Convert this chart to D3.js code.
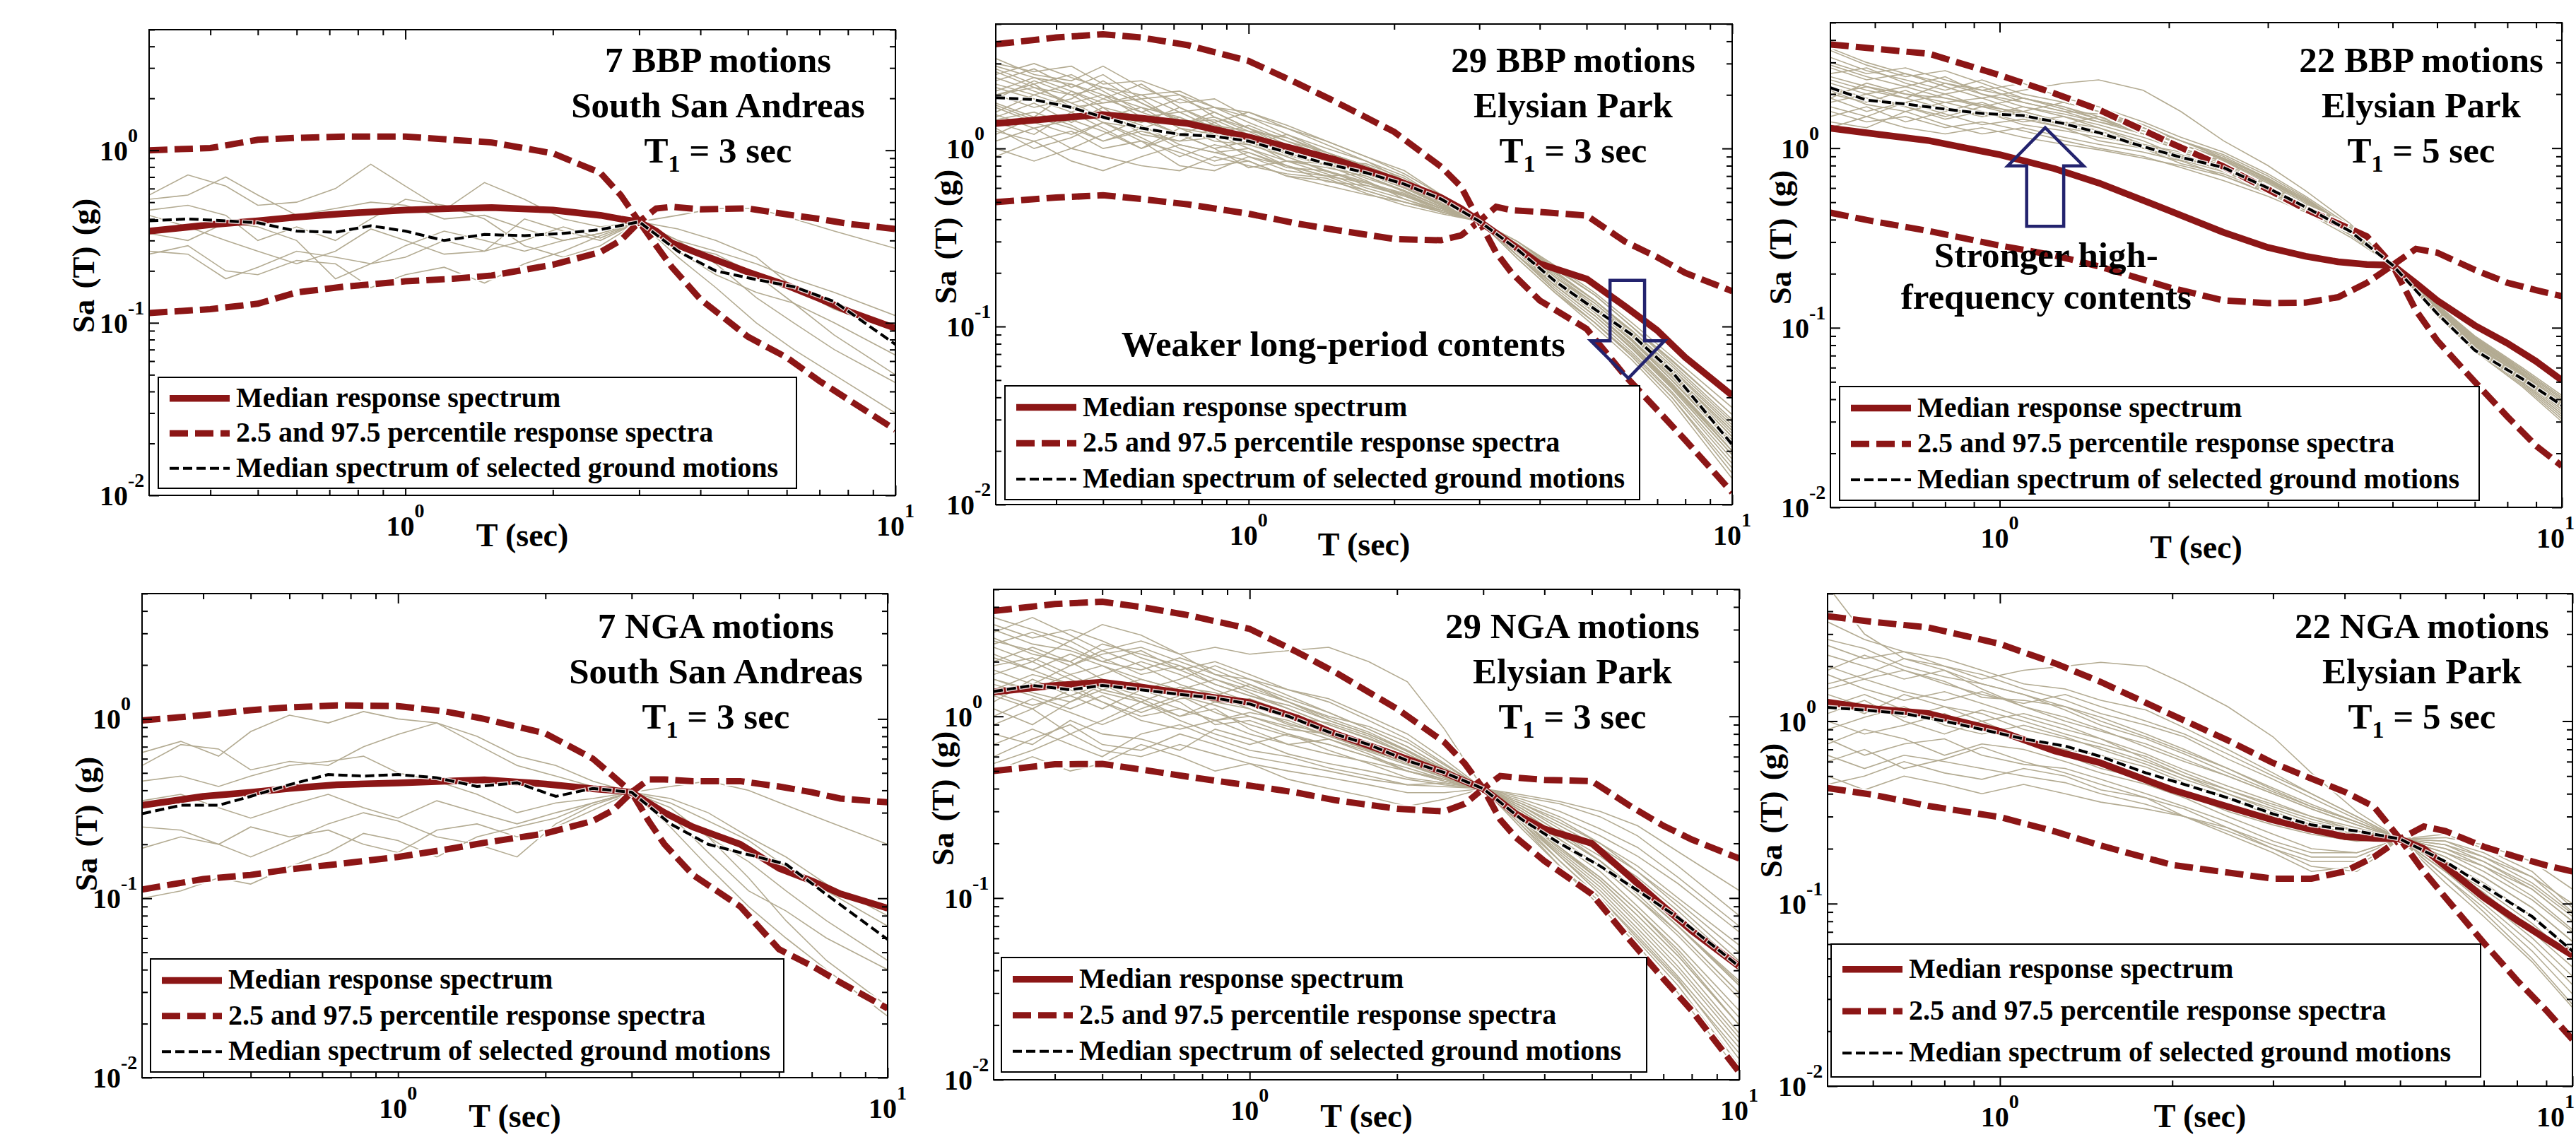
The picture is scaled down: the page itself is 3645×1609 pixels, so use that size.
<!DOCTYPE html>
<html><head><meta charset="utf-8">
<script src="https://cdn.jsdelivr.net/npm/d3@7"></script>
<style>
body{margin:0;background:#fff}
svg{display:block}
text{font-family:"Liberation Serif","Times New Roman",serif;font-weight:bold;fill:#000}
</style>
</head><body>
<svg id="c" width="3645" height="1609"></svg>
<script>
// ---------------- DATA ----------------
const T_BAND_3 = [0.3,0.4,0.5,0.6,0.75,1.0,1.25,1.5,2.0,2.5,2.75,3.0,3.25,3.5,4.0,5.0,6.0,7.0,8.0,10];
const T_BAND_5 = [0.5,0.6,0.75,1.0,1.25,1.5,2.0,2.5,3.0,3.5,4.0,4.5,5.0,5.5,6.0,7.0,8.0,9.0,10];
const T_GRID_3 = [0.3,0.36,0.43,0.5,0.6,0.72,0.85,1.0,1.2,1.45,1.75,2.1,2.5,3.0,3.6,4.3,5.2,6.2,7.5,10];
const T_GRID_5 = [0.5,0.58,0.68,0.8,0.93,1.1,1.3,1.5,1.8,2.1,2.5,3.0,3.5,4.2,5.0,6.0,7.0,8.5,10];

const X_MINOR_TICKS = [0.3,0.4,0.5,0.6,0.7,0.8,0.9,2,3,4,5,6,7,8,9];
const X_MAJOR_TICKS = [1,10];
const X_TICK_EXP = ["0","1"];
const Y_MINOR_TICKS = [0.02,0.03,0.04,0.05,0.06,0.07,0.08,0.09,0.2,0.3,0.4,0.5,0.6,0.7,0.8,0.9,2,3,4,5];
const Y_MAJOR_TICKS = [0.01,0.1,1];
const Y_TICK_EXP = ["-2","-1","0"];

const TITLE_LINE1 = ["7 BBP motions","29 BBP motions","22 BBP motions","7 NGA motions","29 NGA motions","22 NGA motions"];
const TITLE_LINE2 = ["South San Andreas","Elysian Park","Elysian Park","South San Andreas","Elysian Park","Elysian Park"];
const T1_VALUES = [3,3,5,3,3,5];
const LEGEND_LABELS = ["Median response spectrum","2.5 and 97.5 percentile response spectra","Median spectrum of selected ground motions"];

// Panel 1: 7 BBP, South San Andreas
const bbp7_median = [0.34,0.37,0.39,0.41,0.43,0.45,0.46,0.465,0.45,0.42,0.40,0.385,0.34,0.29,0.25,0.197,0.165,0.138,0.117,0.093];
const bbp7_hi = [1.0,1.03,1.15,1.18,1.2,1.2,1.15,1.11,0.96,0.74,0.55,0.385,0.46,0.47,0.455,0.46,0.425,0.40,0.375,0.35];
const bbp7_lo = [0.114,0.12,0.129,0.15,0.162,0.174,0.18,0.188,0.217,0.257,0.30,0.385,0.28,0.21,0.137,0.083,0.063,0.046,0.036,0.024];
const bbp7_sel = [0.39,0.40,0.39,0.38,0.34,0.335,0.365,0.34,0.30,0.325,0.32,0.33,0.347,0.385,0.26,0.20,0.178,0.162,0.133,0.075];
const bbp7_motions = [
 [0.55,0.72,0.62,0.48,0.50,0.60,0.83,0.62,0.45,0.65,0.52,0.40,0.36,0.385,0.30,0.26,0.22,0.18,0.15,0.11],
 [0.52,0.55,0.70,0.55,0.42,0.46,0.50,0.48,0.40,0.42,0.35,0.30,0.33,0.385,0.42,0.46,0.46,0.40,0.34,0.27],
 [0.45,0.48,0.42,0.30,0.36,0.30,0.40,0.52,0.48,0.40,0.28,0.24,0.28,0.385,0.28,0.25,0.19,0.13,0.085,0.05],
 [0.26,0.25,0.18,0.21,0.26,0.24,0.22,0.28,0.34,0.30,0.26,0.30,0.33,0.385,0.30,0.22,0.14,0.10,0.07,0.045],
 [0.25,0.28,0.20,0.19,0.23,0.22,0.16,0.19,0.21,0.17,0.22,0.26,0.32,0.385,0.24,0.16,0.10,0.07,0.05,0.03],
 [0.42,0.36,0.30,0.26,0.22,0.26,0.35,0.30,0.25,0.26,0.40,0.34,0.30,0.385,0.35,0.30,0.24,0.16,0.12,0.09],
 [0.33,0.30,0.38,0.36,0.30,0.18,0.22,0.24,0.30,0.26,0.30,0.36,0.31,0.385,0.26,0.19,0.15,0.13,0.10,0.065]
];

// Panel 2: 29 BBP, Elysian Park, T1 = 3
const bbp29_median = [1.38,1.48,1.55,1.48,1.38,1.16,0.99,0.87,0.67,0.53,0.46,0.39,0.335,0.29,0.225,0.185,0.13,0.095,0.067,0.041];
const bbp29_hi = [3.85,4.2,4.38,4.2,3.8,3.1,2.35,1.85,1.24,0.79,0.61,0.39,0.47,0.45,0.44,0.42,0.30,0.245,0.20,0.158];
const bbp29_lo = [0.50,0.53,0.546,0.52,0.485,0.43,0.38,0.35,0.31,0.305,0.325,0.39,0.26,0.20,0.14,0.097,0.053,0.034,0.023,0.0117];
const bbp29_sel = [1.93,1.88,1.7,1.5,1.3,1.2,1.17,1.1,0.95,0.82,0.73,0.63,0.52,0.39,0.27,0.18,0.125,0.09,0.056,0.0217];
const bbp29_motions = [
 [2.4,2.8,2.2,2.6,1.9,2.0,1.5,1.3,1.1,0.95,0.80,0.62,0.50,0.39,0.28,0.19,0.13,0.085,0.05,0.022],
 [1.8,1.5,2.1,1.7,1.5,1.2,1.4,1.1,0.85,0.78,0.70,0.58,0.47,0.39,0.26,0.17,0.115,0.075,0.045,0.019],
 [3.2,2.6,2.4,2.9,2.2,1.8,1.9,1.5,1.2,1.0,0.85,0.70,0.52,0.39,0.30,0.21,0.15,0.10,0.065,0.032],
 [1.2,1.5,1.3,1.1,1.3,1.0,0.85,0.95,0.80,0.65,0.62,0.55,0.46,0.39,0.25,0.16,0.105,0.07,0.042,0.017],
 [2.0,2.2,1.8,1.5,1.7,1.5,1.25,1.05,1.2,0.95,0.78,0.62,0.48,0.39,0.27,0.19,0.13,0.09,0.055,0.025],
 [2.8,2.3,2.6,2.1,1.6,1.9,1.6,1.3,1.0,0.90,0.72,0.60,0.50,0.39,0.29,0.20,0.14,0.095,0.058,0.028],
 [1.5,1.8,1.4,1.7,1.2,1.1,1.3,1.2,0.92,0.80,0.66,0.52,0.45,0.39,0.27,0.18,0.12,0.08,0.048,0.02],
 [2.2,1.9,1.6,1.9,2.3,1.7,1.4,1.6,1.3,1.1,0.90,0.75,0.55,0.39,0.28,0.20,0.14,0.092,0.055,0.026],
 [0.9,1.1,0.85,0.75,0.9,1.05,0.95,0.85,0.70,0.62,0.55,0.50,0.44,0.39,0.26,0.175,0.12,0.078,0.046,0.02],
 [1.7,1.4,1.2,1.4,1.1,0.8,0.75,0.9,0.75,0.70,0.58,0.50,0.45,0.39,0.25,0.165,0.11,0.072,0.043,0.018],
 [2.6,3.0,2.5,2.2,2.0,1.6,1.7,1.4,1.15,0.92,0.75,0.64,0.50,0.39,0.29,0.21,0.15,0.10,0.062,0.03],
 [1.4,1.2,1.6,1.3,1.0,1.2,1.0,0.78,0.85,0.72,0.60,0.52,0.44,0.39,0.24,0.155,0.105,0.068,0.04,0.016],
 [2.0,1.7,1.9,2.4,1.8,1.4,1.5,1.25,1.0,0.85,0.82,0.68,0.52,0.39,0.28,0.19,0.135,0.09,0.054,0.024],
 [1.1,1.3,1.0,1.2,1.45,1.2,1.0,1.1,0.9,0.75,0.65,0.55,0.46,0.39,0.27,0.185,0.125,0.083,0.05,0.022],
 [2.9,2.5,2.1,1.8,2.0,2.1,1.7,1.5,1.3,1.05,0.85,0.66,0.52,0.39,0.30,0.22,0.155,0.105,0.068,0.035],
 [1.6,2.0,1.7,1.4,1.3,1.5,1.2,1.0,0.80,0.70,0.72,0.60,0.48,0.39,0.26,0.175,0.12,0.08,0.048,0.021],
 [1.3,1.0,1.15,1.4,1.15,0.9,1.05,0.95,0.78,0.75,0.62,0.54,0.45,0.39,0.25,0.16,0.105,0.068,0.04,0.015],
 [2.3,2.0,2.3,1.9,1.6,1.35,1.6,1.3,1.05,0.88,0.70,0.57,0.47,0.39,0.28,0.195,0.135,0.09,0.055,0.026],
 [1.9,2.4,2.0,1.6,1.4,1.7,1.35,1.15,0.95,0.80,0.78,0.62,0.50,0.39,0.27,0.18,0.125,0.083,0.05,0.023],
 [1.0,0.85,1.0,0.9,0.8,0.75,0.90,0.80,0.72,0.68,0.56,0.48,0.43,0.39,0.25,0.17,0.115,0.075,0.045,0.019],
 [2.5,2.1,1.8,2.0,1.7,1.3,1.2,1.35,1.1,0.90,0.75,0.60,0.49,0.39,0.29,0.205,0.14,0.095,0.06,0.029],
 [1.45,1.6,1.35,1.1,1.25,1.1,1.15,0.90,0.80,0.70,0.64,0.56,0.46,0.39,0.26,0.17,0.115,0.076,0.046,0.02],
 [3.0,2.7,2.9,2.3,2.4,2.0,1.7,1.6,1.35,1.1,0.90,0.72,0.55,0.39,0.30,0.215,0.15,0.10,0.064,0.032],
 [1.75,1.45,1.5,1.6,1.35,1.05,0.95,1.0,0.85,0.82,0.68,0.58,0.47,0.39,0.27,0.18,0.12,0.08,0.047,0.021],
 [2.1,2.5,2.3,2.0,1.5,1.6,1.3,1.2,1.05,0.85,0.72,0.60,0.48,0.39,0.28,0.19,0.13,0.088,0.053,0.024],
 [1.25,1.1,1.25,1.0,1.1,0.95,0.80,0.85,0.70,0.66,0.58,0.50,0.44,0.39,0.24,0.155,0.10,0.065,0.038,0.014],
 [2.7,2.2,2.0,2.2,1.8,1.45,1.35,1.25,1.15,0.95,0.80,0.66,0.51,0.39,0.29,0.20,0.14,0.094,0.057,0.027],
 [1.55,1.3,1.45,1.25,1.0,1.3,1.1,1.05,0.90,0.74,0.64,0.54,0.46,0.39,0.26,0.175,0.12,0.078,0.047,0.02],
 [2.0,2.3,1.7,1.8,1.9,1.4,1.45,1.2,0.98,0.88,0.74,0.60,0.49,0.39,0.27,0.185,0.128,0.085,0.052,0.023]
];

// Panel 3: 22 BBP, Elysian Park, T1 = 5
const bbp22_median = [1.29,1.2,1.1,0.92,0.77,0.64,0.45,0.34,0.28,0.25,0.233,0.225,0.223,0.177,0.142,0.103,0.082,0.065,0.051];
const bbp22_hi = [3.78,3.58,3.35,2.55,2.02,1.64,1.08,0.79,0.59,0.457,0.38,0.323,0.223,0.275,0.262,0.21,0.178,0.162,0.15];
const bbp22_lo = [0.437,0.39,0.345,0.287,0.253,0.22,0.168,0.142,0.137,0.138,0.148,0.178,0.223,0.125,0.085,0.05,0.032,0.022,0.017];
const bbp22_sel = [2.17,1.85,1.76,1.65,1.56,1.52,1.37,1.22,1.02,0.89,0.78,0.6,0.47,0.345,0.223,0.12,0.075,0.052,0.037];
const bbp22_motions = [
 [2.8,2.4,2.6,2.2,1.9,2.1,2.3,2.4,2.1,1.6,1.1,0.80,0.58,0.38,0.223,0.13,0.085,0.056,0.038],
 [2.0,1.8,2.1,1.7,1.5,1.6,1.4,1.3,1.05,0.95,0.80,0.62,0.48,0.34,0.223,0.125,0.082,0.053,0.036],
 [3.5,2.9,2.5,2.7,2.3,1.9,1.7,1.5,1.2,1.0,0.85,0.66,0.50,0.35,0.223,0.128,0.085,0.055,0.037],
 [1.5,1.7,1.4,1.6,1.8,1.5,1.3,1.1,1.0,0.82,0.72,0.58,0.46,0.33,0.223,0.12,0.078,0.05,0.033],
 [2.4,2.1,1.9,2.3,2.0,1.8,1.6,1.55,1.3,1.1,0.90,0.68,0.52,0.36,0.223,0.132,0.088,0.058,0.04],
 [1.9,2.3,2.0,1.8,1.6,1.4,1.5,1.3,1.1,0.90,0.75,0.60,0.47,0.34,0.223,0.123,0.08,0.052,0.035],
 [3.0,2.6,2.8,2.4,2.1,2.3,1.9,1.7,1.4,1.15,0.95,0.72,0.54,0.37,0.223,0.135,0.09,0.06,0.042],
 [1.4,1.3,1.6,1.35,1.2,1.3,1.15,1.05,0.95,0.85,0.70,0.56,0.45,0.33,0.223,0.118,0.075,0.048,0.031],
 [2.2,1.9,1.7,1.5,1.7,1.9,1.7,1.45,1.2,0.95,0.80,0.63,0.49,0.35,0.223,0.128,0.084,0.055,0.037],
 [2.6,2.8,2.3,2.0,2.2,1.8,1.6,1.4,1.25,1.05,0.86,0.66,0.51,0.35,0.223,0.13,0.086,0.056,0.038],
 [1.7,1.5,1.8,2.0,1.7,1.5,1.35,1.2,1.0,0.88,0.76,0.60,0.47,0.34,0.223,0.124,0.081,0.052,0.035],
 [3.2,2.7,2.4,2.1,2.4,2.0,1.8,1.6,1.35,1.1,0.92,0.70,0.53,0.36,0.223,0.133,0.089,0.059,0.041],
 [2.0,2.2,1.9,1.65,1.5,1.7,1.5,1.35,1.15,0.98,0.82,0.64,0.49,0.35,0.223,0.127,0.083,0.054,0.036],
 [1.6,1.4,1.5,1.3,1.4,1.25,1.1,1.0,0.90,0.78,0.66,0.54,0.44,0.32,0.223,0.117,0.074,0.047,0.03],
 [2.5,2.2,2.0,1.9,1.7,1.6,1.8,1.6,1.3,1.05,0.88,0.68,0.52,0.36,0.223,0.131,0.087,0.057,0.039],
 [1.8,2.0,1.7,1.45,1.6,1.35,1.25,1.15,1.05,0.90,0.75,0.60,0.47,0.34,0.223,0.122,0.079,0.051,0.034],
 [2.9,2.5,2.2,2.5,2.0,1.7,1.55,1.4,1.2,1.0,0.84,0.65,0.50,0.35,0.223,0.129,0.085,0.055,0.037],
 [2.1,1.75,1.6,1.8,1.9,1.6,1.4,1.25,1.05,0.92,0.79,0.62,0.48,0.34,0.223,0.125,0.082,0.053,0.036],
 [1.3,1.5,1.3,1.2,1.3,1.15,1.05,0.98,0.88,0.80,0.70,0.57,0.46,0.33,0.223,0.12,0.077,0.049,0.032],
 [2.3,2.0,2.2,1.9,1.75,1.55,1.35,1.5,1.3,1.1,0.88,0.67,0.51,0.36,0.223,0.13,0.086,0.056,0.038],
 [3.6,3.0,2.6,2.3,2.1,1.9,1.65,1.45,1.25,1.05,0.87,0.68,0.52,0.36,0.223,0.132,0.088,0.058,0.04],
 [1.9,1.6,1.8,1.55,1.35,1.45,1.3,1.2,1.0,0.86,0.74,0.59,0.47,0.34,0.223,0.121,0.078,0.05,0.033]
];

// Panel 4: 7 NGA, South San Andreas
const nga7_median = [0.33,0.37,0.39,0.41,0.43,0.44,0.45,0.458,0.434,0.408,0.40,0.39,0.34,0.30,0.25,0.20,0.147,0.125,0.106,0.088];
const nga7_hi = [0.98,1.05,1.12,1.16,1.19,1.18,1.1,1.0,0.83,0.60,0.48,0.39,0.46,0.46,0.45,0.45,0.42,0.39,0.36,0.343];
const nga7_lo = [0.112,0.128,0.135,0.145,0.155,0.17,0.187,0.204,0.23,0.27,0.31,0.39,0.27,0.20,0.135,0.09,0.052,0.042,0.034,0.0243];
const nga7_sel = [0.296,0.33,0.33,0.37,0.43,0.49,0.48,0.49,0.47,0.42,0.44,0.37,0.41,0.39,0.26,0.20,0.175,0.155,0.105,0.059];
const nga7_motions = [
 [0.65,0.75,0.62,0.85,1.05,0.95,1.1,1.0,0.95,0.80,0.62,0.55,0.45,0.39,0.30,0.22,0.16,0.11,0.075,0.045],
 [0.55,0.72,0.68,0.52,0.58,0.55,0.70,0.82,0.95,0.72,0.55,0.48,0.42,0.39,0.42,0.45,0.40,0.33,0.27,0.20],
 [0.45,0.48,0.42,0.48,0.55,0.58,0.62,0.50,0.45,0.38,0.30,0.34,0.36,0.39,0.34,0.27,0.21,0.15,0.11,0.07],
 [0.35,0.38,0.32,0.28,0.33,0.38,0.32,0.28,0.35,0.30,0.26,0.30,0.34,0.39,0.32,0.22,0.13,0.075,0.045,0.025],
 [0.25,0.24,0.20,0.25,0.22,0.24,0.20,0.18,0.24,0.26,0.22,0.25,0.31,0.39,0.25,0.15,0.09,0.06,0.04,0.022],
 [0.19,0.22,0.20,0.17,0.21,0.26,0.30,0.27,0.22,0.20,0.17,0.26,0.33,0.39,0.29,0.18,0.11,0.085,0.06,0.04],
 [0.10,0.11,0.13,0.12,0.15,0.18,0.23,0.21,0.17,0.22,0.25,0.28,0.34,0.39,0.36,0.30,0.22,0.17,0.12,0.08]
];

// Panel 5: 29 NGA, Elysian Park, T1 = 3
const nga29_median = [1.36,1.48,1.54,1.45,1.33,1.19,0.98,0.8,0.61,0.49,0.44,0.40,0.34,0.29,0.24,0.2,0.13,0.09,0.066,0.042];
const nga29_hi = [3.8,4.15,4.27,4.0,3.6,3.03,2.26,1.74,1.1,0.72,0.55,0.40,0.47,0.46,0.447,0.44,0.32,0.25,0.21,0.165];
const nga29_lo = [0.5,0.545,0.547,0.51,0.465,0.416,0.38,0.345,0.31,0.30,0.33,0.40,0.27,0.215,0.16,0.105,0.058,0.036,0.024,0.011];
const nga29_sel = [1.37,1.48,1.4,1.48,1.4,1.32,1.26,1.17,1.0,0.82,0.7,0.57,0.49,0.40,0.27,0.2,0.15,0.11,0.078,0.042];
const nga29_motions = [
 [3.5,3.0,2.6,3.2,2.8,2.2,2.4,2.2,2.3,2.4,2.0,1.55,0.85,0.40,0.30,0.22,0.16,0.11,0.07,0.035],
 [1.2,1.6,1.3,1.1,1.4,1.2,0.9,0.95,0.80,0.70,0.60,0.52,0.45,0.40,0.28,0.19,0.13,0.085,0.05,0.02],
 [2.4,2.0,2.6,2.1,1.7,1.9,1.5,1.3,1.1,0.90,0.75,0.62,0.50,0.40,0.33,0.27,0.20,0.14,0.09,0.045],
 [0.6,0.75,0.9,0.7,0.65,0.8,0.7,0.6,0.55,0.50,0.45,0.42,0.43,0.40,0.36,0.33,0.28,0.22,0.15,0.08],
 [1.8,1.5,1.9,2.3,1.9,1.5,1.3,1.5,1.2,0.95,0.80,0.64,0.50,0.40,0.26,0.16,0.10,0.06,0.035,0.014],
 [2.9,3.5,2.8,2.3,2.6,2.2,1.7,1.6,1.4,1.2,0.95,0.75,0.55,0.40,0.31,0.23,0.16,0.105,0.065,0.03],
 [0.9,1.1,0.8,0.95,1.2,1.0,1.1,0.85,0.70,0.75,0.62,0.50,0.45,0.40,0.24,0.15,0.09,0.055,0.03,0.011],
 [1.5,1.3,1.1,1.3,1.05,1.25,1.3,1.1,0.90,0.80,0.68,0.55,0.46,0.40,0.29,0.21,0.15,0.10,0.062,0.028],
 [2.0,2.4,2.0,1.6,1.4,1.6,1.9,1.6,1.3,1.05,0.85,0.68,0.52,0.40,0.27,0.18,0.12,0.075,0.045,0.018],
 [1.1,0.9,1.2,1.5,1.2,0.95,0.8,0.7,0.80,0.65,0.55,0.46,0.43,0.40,0.35,0.30,0.24,0.19,0.13,0.07],
 [3.2,2.7,3.0,2.6,2.1,1.8,2.0,1.7,1.4,1.25,1.0,0.80,0.58,0.40,0.28,0.19,0.125,0.08,0.048,0.02],
 [0.5,0.6,0.5,0.55,0.7,0.6,0.5,0.55,0.45,0.40,0.36,0.32,0.35,0.40,0.30,0.22,0.16,0.11,0.07,0.033],
 [2.2,1.8,1.5,1.7,2.0,1.7,1.4,1.2,1.0,0.92,0.78,0.62,0.48,0.40,0.25,0.15,0.095,0.058,0.033,0.012],
 [1.4,1.7,1.5,1.2,1.0,1.1,0.95,1.05,0.95,0.78,0.65,0.56,0.47,0.40,0.32,0.25,0.19,0.14,0.095,0.05],
 [2.7,2.2,2.0,2.5,2.2,1.9,1.6,1.4,1.2,1.0,0.88,0.72,0.54,0.40,0.27,0.17,0.11,0.068,0.04,0.016],
 [0.8,0.7,0.95,0.8,0.75,0.65,0.85,0.75,0.62,0.55,0.50,0.45,0.42,0.40,0.33,0.26,0.20,0.15,0.10,0.055],
 [1.9,2.1,1.7,1.4,1.6,1.4,1.2,1.25,1.05,0.85,0.70,0.58,0.47,0.40,0.29,0.20,0.14,0.09,0.055,0.024],
 [1.3,1.1,1.4,1.2,0.95,0.85,0.95,0.8,0.7,0.62,0.56,0.50,0.44,0.40,0.31,0.23,0.17,0.12,0.08,0.04],
 [2.5,2.9,2.4,2.0,1.8,2.1,1.8,1.5,1.25,1.05,0.85,0.68,0.52,0.40,0.26,0.17,0.105,0.065,0.037,0.015],
 [1.6,1.4,1.7,1.9,1.5,1.3,1.15,1.0,0.85,0.80,0.72,0.60,0.48,0.40,0.30,0.22,0.16,0.11,0.07,0.034],
 [0.7,0.85,0.7,0.6,0.8,0.9,0.75,0.65,0.60,0.52,0.47,0.42,0.41,0.40,0.34,0.28,0.22,0.17,0.12,0.065],
 [2.1,1.8,2.2,1.9,1.6,1.4,1.6,1.35,1.1,0.90,0.76,0.62,0.49,0.40,0.28,0.185,0.125,0.08,0.048,0.02],
 [1.0,1.25,1.05,0.9,1.1,1.3,1.05,0.9,0.78,0.70,0.60,0.50,0.44,0.40,0.32,0.24,0.18,0.13,0.085,0.042],
 [2.6,2.3,1.9,2.2,2.4,2.0,1.7,1.45,1.2,0.98,0.82,0.65,0.51,0.40,0.27,0.175,0.115,0.072,0.042,0.017],
 [1.7,2.0,1.6,1.35,1.2,1.45,1.35,1.15,1.0,0.85,0.70,0.57,0.47,0.40,0.29,0.21,0.15,0.10,0.065,0.03],
 [1.35,1.15,1.3,1.5,1.3,1.1,0.95,1.0,0.88,0.75,0.64,0.54,0.46,0.40,0.25,0.16,0.10,0.062,0.036,0.013],
 [3.0,2.5,2.3,2.0,2.3,1.8,1.5,1.3,1.15,0.95,0.80,0.65,0.51,0.40,0.30,0.22,0.16,0.11,0.07,0.033],
 [0.55,0.65,0.8,0.65,0.6,0.7,0.62,0.55,0.50,0.46,0.42,0.38,0.38,0.40,0.37,0.34,0.30,0.25,0.18,0.11],
 [1.6,1.35,1.2,1.4,1.25,1.0,1.2,1.1,0.92,0.78,0.66,0.55,0.46,0.40,0.28,0.19,0.13,0.085,0.052,0.022]
];

// Panel 6: 22 NGA, Elysian Park, T1 = 5
const nga22_median = [1.27,1.17,1.1,0.88,0.685,0.59,0.42,0.34,0.287,0.255,0.233,0.228,0.226,0.2,0.16,0.108,0.081,0.064,0.052];
const nga22_hi = [3.76,3.5,3.26,2.65,2.07,1.64,1.08,0.785,0.59,0.484,0.41,0.34,0.226,0.265,0.25,0.205,0.18,0.162,0.15];
const nga22_lo = [0.43,0.395,0.343,0.298,0.248,0.208,0.163,0.148,0.137,0.137,0.15,0.18,0.226,0.15,0.108,0.061,0.038,0.026,0.018];
const nga22_sel = [1.19,1.15,1.1,1.0,0.9,0.8,0.73,0.64,0.52,0.45,0.38,0.31,0.27,0.25,0.226,0.17,0.125,0.085,0.055];
const nga22_motions = [
 [5.5,3.0,2.2,1.9,1.6,1.4,1.2,1.05,0.85,0.70,0.55,0.42,0.34,0.28,0.226,0.17,0.13,0.085,0.055],
 [1.6,1.8,2.2,2.0,1.7,1.9,2.0,2.1,2.0,1.6,1.2,0.82,0.52,0.32,0.226,0.15,0.11,0.075,0.05],
 [1.1,1.3,1.0,0.85,1.0,0.8,0.65,0.55,0.48,0.40,0.32,0.27,0.24,0.22,0.226,0.21,0.18,0.14,0.10],
 [2.3,2.0,1.7,1.9,1.5,1.2,1.05,0.9,0.72,0.60,0.50,0.40,0.33,0.27,0.226,0.16,0.115,0.07,0.045],
 [0.45,0.5,0.6,0.52,0.48,0.55,0.5,0.42,0.38,0.33,0.26,0.2,0.16,0.15,0.226,0.24,0.2,0.15,0.095],
 [1.8,1.5,1.3,1.45,1.25,1.05,0.9,0.8,0.62,0.50,0.42,0.35,0.3,0.26,0.226,0.18,0.14,0.095,0.062],
 [0.75,0.9,0.8,0.65,0.75,0.7,0.6,0.52,0.45,0.38,0.3,0.24,0.2,0.19,0.226,0.2,0.16,0.12,0.08],
 [2.6,2.2,2.4,2.0,1.8,1.5,1.3,1.1,0.95,0.82,0.62,0.48,0.38,0.29,0.226,0.14,0.095,0.055,0.032],
 [1.3,1.1,1.4,1.2,1.0,1.1,0.95,0.8,0.66,0.54,0.44,0.36,0.3,0.25,0.226,0.19,0.15,0.105,0.07],
 [0.6,0.7,0.55,0.62,0.72,0.6,0.52,0.45,0.38,0.30,0.24,0.19,0.15,0.16,0.226,0.22,0.19,0.14,0.09],
 [1.9,2.3,1.9,1.6,1.4,1.25,1.4,1.2,1.0,0.85,0.66,0.5,0.4,0.3,0.226,0.13,0.085,0.048,0.027],
 [1.0,0.85,0.95,1.1,0.9,0.78,0.7,0.65,0.56,0.46,0.38,0.3,0.26,0.23,0.226,0.2,0.17,0.12,0.08],
 [3.5,2.8,2.4,2.2,1.9,1.6,1.5,1.3,1.15,0.92,0.70,0.52,0.4,0.3,0.226,0.14,0.09,0.05,0.028],
 [0.5,0.42,0.5,0.45,0.4,0.45,0.4,0.36,0.33,0.30,0.25,0.2,0.17,0.17,0.226,0.23,0.21,0.17,0.12],
 [1.5,1.7,1.45,1.3,1.45,1.2,1.0,0.88,0.75,0.62,0.5,0.4,0.33,0.27,0.226,0.16,0.12,0.078,0.05],
 [2.0,1.7,1.9,1.65,1.35,1.3,1.2,1.0,0.82,0.68,0.55,0.43,0.35,0.28,0.226,0.15,0.105,0.065,0.04],
 [0.9,1.05,1.2,0.95,0.85,0.95,0.82,0.7,0.58,0.48,0.4,0.32,0.27,0.24,0.226,0.19,0.16,0.11,0.072],
 [1.2,1.4,1.15,1.0,1.15,1.0,0.85,0.75,0.64,0.52,0.42,0.34,0.29,0.25,0.226,0.17,0.13,0.085,0.055],
 [0.8,0.65,0.75,0.8,0.65,0.58,0.55,0.48,0.4,0.34,0.28,0.22,0.19,0.19,0.226,0.21,0.17,0.125,0.085],
 [2.8,2.5,2.0,1.75,1.6,1.4,1.15,0.95,0.8,0.66,0.52,0.41,0.34,0.28,0.226,0.15,0.1,0.06,0.036],
 [1.4,1.2,1.05,1.2,1.1,0.9,0.8,0.72,0.6,0.5,0.4,0.33,0.28,0.25,0.226,0.18,0.14,0.095,0.062],
 [0.65,0.55,0.65,0.6,0.55,0.5,0.46,0.4,0.35,0.3,0.26,0.21,0.18,0.18,0.226,0.22,0.18,0.13,0.088]
];

// ---------------- LAYOUT (pixels) ----------------
const W = 3645, H = 1609;
const PANEL_BOX = [[211,42,1267,701],[1409,34,2451,714],[2590,32,3625,718],[201,840,1256,1525],[1406,834,2461,1528],[2586,840,3640,1537]];
const TITLE_CX = [1016,2226,3426,1013,2225,3427];
const TITLE_BASE = [102,102,102,903,903,903];
const LEGEND_BOX = [[224,534,1127,691],[1422,546,2320,707],[2603,547,3508,708],[213,1357,1109,1517],[1417,1355,2330,1517],[2591,1336,3510,1524]];
const YLABEL_POS = [[117,376],[1337,335],[2518,336],[121,1166],[1333,1130],[2505,1147]];

const RED = "#8c1616", GRAY = "#b3ab92", NAVY = "#23236e";

const panels = [
 {xmin:0.3, tg:T_GRID_3, tb:T_BAND_3, mo:bbp7_motions, med:bbp7_median, lo:bbp7_lo, hi:bbp7_hi, sel:bbp7_sel},
 {xmin:0.3, tg:T_GRID_3, tb:T_BAND_3, mo:bbp29_motions, med:bbp29_median, lo:bbp29_lo, hi:bbp29_hi, sel:bbp29_sel},
 {xmin:0.5, tg:T_GRID_5, tb:T_BAND_5, mo:bbp22_motions, med:bbp22_median, lo:bbp22_lo, hi:bbp22_hi, sel:bbp22_sel},
 {xmin:0.3, tg:T_GRID_3, tb:T_BAND_3, mo:nga7_motions, med:nga7_median, lo:nga7_lo, hi:nga7_hi, sel:nga7_sel},
 {xmin:0.3, tg:T_GRID_3, tb:T_BAND_3, mo:nga29_motions, med:nga29_median, lo:nga29_lo, hi:nga29_hi, sel:nga29_sel},
 {xmin:0.5, tg:T_GRID_5, tb:T_BAND_5, mo:nga22_motions, med:nga22_median, lo:nga22_lo, hi:nga22_hi, sel:nga22_sel}
];

// annotations (data coordinates)
const ANNOT = {
 1: {text:["Weaker long-period contents"], T:1.57, sa:[0.068],
     arrow:[[5.59,0.1815],[6.59,0.1815],[6.59,0.0832],[7.25,0.0832],[6.10,0.0512],[5.10,0.0832],[5.59,0.0832]]},
 2: {text:["Stronger high-","frequency contents"], T:1.21, sa:[0.217,0.128],
     arrow:[[1.117,0.367],[1.30,0.367],[1.30,0.797],[1.41,0.797],[1.205,1.30],[1.034,0.797],[1.117,0.797]]}
};

const svg = d3.select("#c");
svg.append("rect").attr("width",W).attr("height",H).attr("fill","#fff");
const defs = svg.append("defs");

panels.forEach((p,i) => {
  const [x0,y0,x1,y1] = PANEL_BOX[i];
  const x = d3.scaleLog().domain([p.xmin,10]).range([x0,x1]);
  const y = d3.scaleLog().domain([0.01,5]).range([y1,y0]);
  const g = svg.append("g");
  defs.append("clipPath").attr("id","cp"+i).append("rect")
    .attr("x",x0).attr("y",y0).attr("width",x1-x0).attr("height",y1-y0);
  const plot = g.append("g").attr("clip-path",`url(#cp${i})`);
  const lineOn = ts => d3.line().x((d,j)=>x(ts[j])).y(d=>y(d));

  // individual motions
  plot.selectAll("path.mo").data(p.mo).join("path").attr("class","mo")
    .attr("d", lineOn(p.tg)).attr("fill","none").attr("stroke",GRAY).attr("stroke-width",1.6);

  // percentile dashed (with white halo)
  [p.lo,p.hi].forEach(arr => {
    plot.append("path").attr("d",lineOn(p.tb)(arr)).attr("fill","none")
      .attr("stroke","#fff").attr("stroke-width",13).attr("stroke-dasharray","30,6").attr("stroke-dashoffset",2);
    plot.append("path").attr("d",lineOn(p.tb)(arr)).attr("fill","none")
      .attr("stroke",RED).attr("stroke-width",9).attr("stroke-dasharray","26,10");
  });
  // median
  plot.append("path").attr("d",lineOn(p.tb)(p.med)).attr("fill","none")
    .attr("stroke",RED).attr("stroke-width",9.5).attr("stroke-linejoin","round");
  // selected median (black dashed)
  plot.append("path").attr("d",lineOn(p.tg)(p.sel)).attr("fill","none")
    .attr("stroke","#fff").attr("stroke-width",7).attr("stroke-dasharray","16,3").attr("stroke-dashoffset",1.5).attr("opacity",0.8);
  plot.append("path").attr("d",lineOn(p.tg)(p.sel)).attr("fill","none")
    .attr("stroke","#000").attr("stroke-width",4).attr("stroke-dasharray","13,6");

  // axes box & ticks
  const xMin = X_MINOR_TICKS.filter(v => v > p.xmin);
  const axes = [
    [d3.axisBottom, `translate(0,${y1})`, x, xMin, X_MAJOR_TICKS],
    [d3.axisTop, `translate(0,${y0})`, x, xMin, X_MAJOR_TICKS],
    [d3.axisLeft, `translate(${x0},0)`, y, Y_MINOR_TICKS, Y_MAJOR_TICKS],
    [d3.axisRight, `translate(${x1},0)`, y, Y_MINOR_TICKS, Y_MAJOR_TICKS]
  ];
  axes.forEach(([fn,tr,sc,minor,major]) => {
    [[minor,-8],[major,-14]].forEach(([vals,sz]) => {
      const a = g.append("g").attr("transform",tr)
        .call(fn(sc).tickValues(vals).tickSize(sz).tickSizeOuter(0).tickFormat(""));
      a.select(".domain").remove();
      a.selectAll("line").attr("stroke","#000").attr("stroke-width",2);
    });
  });
  g.append("rect").attr("x",x0).attr("y",y0).attr("width",x1-x0).attr("height",y1-y0)
    .attr("fill","none").attr("stroke","#000").attr("stroke-width",2);

  // y tick labels
  Y_MAJOR_TICKS.forEach((v,k) => {
    const t = g.append("text").attr("x",x0-70).attr("y",y(v)+14).attr("font-size",40);
    t.append("tspan").text("10");
    t.append("tspan").attr("dy",-26).attr("font-size",28).text(Y_TICK_EXP[k]);
  });
  // x tick labels (kept inside the canvas)
  X_MAJOR_TICKS.forEach((v,k) => {
    const t = g.append("text").attr("x",x(v)).attr("y",y1+57).attr("font-size",40).attr("text-anchor","middle");
    t.append("tspan").text("10");
    t.append("tspan").attr("dy",-26).attr("font-size",28).text(X_TICK_EXP[k]);
    const bb = t.node().getBBox();
    if (bb.x + bb.width > W - 2) t.attr("text-anchor","end").attr("x", W - 2);
  });
  // axis labels
  g.append("text").attr("x",(x0+x1)/2).attr("y",Math.min(y1+72, H-14)).attr("font-size",46)
    .attr("text-anchor","middle").text("T (sec)");
  const [lx,ly] = YLABEL_POS[i];
  g.append("text").attr("transform",`translate(${lx},${ly}) rotate(-90)`).attr("dy","0.35em")
    .attr("font-size",45).attr("text-anchor","middle").style("word-spacing","4px").text("Sa (T) (g)");

  // title
  const cx = TITLE_CX[i], tb = TITLE_BASE[i];
  g.append("text").attr("x",cx).attr("y",tb).attr("font-size",51).attr("text-anchor","middle").text(TITLE_LINE1[i]);
  g.append("text").attr("x",cx).attr("y",tb+64).attr("font-size",51).attr("text-anchor","middle").text(TITLE_LINE2[i]);
  const t3 = g.append("text").attr("x",cx).attr("y",tb+128).attr("font-size",51).attr("text-anchor","middle");
  t3.append("tspan").text("T");
  t3.append("tspan").attr("dy",13).attr("font-size",34).text("1");
  t3.append("tspan").attr("dy",-13).text(" = " + T1_VALUES[i] + " sec");

  // annotations
  const an = ANNOT[i];
  if (an) {
    g.append("path").attr("d", d3.line().x(d=>x(d[0])).y(d=>y(d[1]))(an.arrow) + "Z")
      .attr("fill","none").attr("stroke",NAVY).attr("stroke-width",4.5).attr("stroke-linejoin","miter");
    an.text.forEach((s,k) => {
      g.append("text").attr("x",x(an.T)).attr("y",y(an.sa[k])).attr("font-size",51)
        .attr("text-anchor","middle").text(s);
    });
  }

  // legend
  const [lx0,ly0,lx1,ly1] = LEGEND_BOX[i];
  const lh = ly1-ly0;
  const lg = g.append("g");
  lg.append("rect").attr("x",lx0).attr("y",ly0).attr("width",lx1-lx0).attr("height",lh)
    .attr("fill","#fff").attr("stroke","#000").attr("stroke-width",2);
  const styles = [
    {c:RED,w:9.5,d:null},
    {c:RED,w:9,d:"26,10"},
    {c:"#000",w:4,d:"13,6"}
  ];
  LEGEND_LABELS.forEach((lab,k) => {
    const ry = ly0 + lh*(0.19 + 0.315*k);
    const ln = lg.append("line").attr("x1",lx0+16).attr("x2",lx0+101).attr("y1",ry).attr("y2",ry)
      .attr("stroke",styles[k].c).attr("stroke-width",styles[k].w);
    if (styles[k].d) ln.attr("stroke-dasharray",styles[k].d);
    lg.append("text").attr("x",lx0+110).attr("y",ry+12).attr("font-size",40).text(lab);
  });
});
</script>
</body></html>
